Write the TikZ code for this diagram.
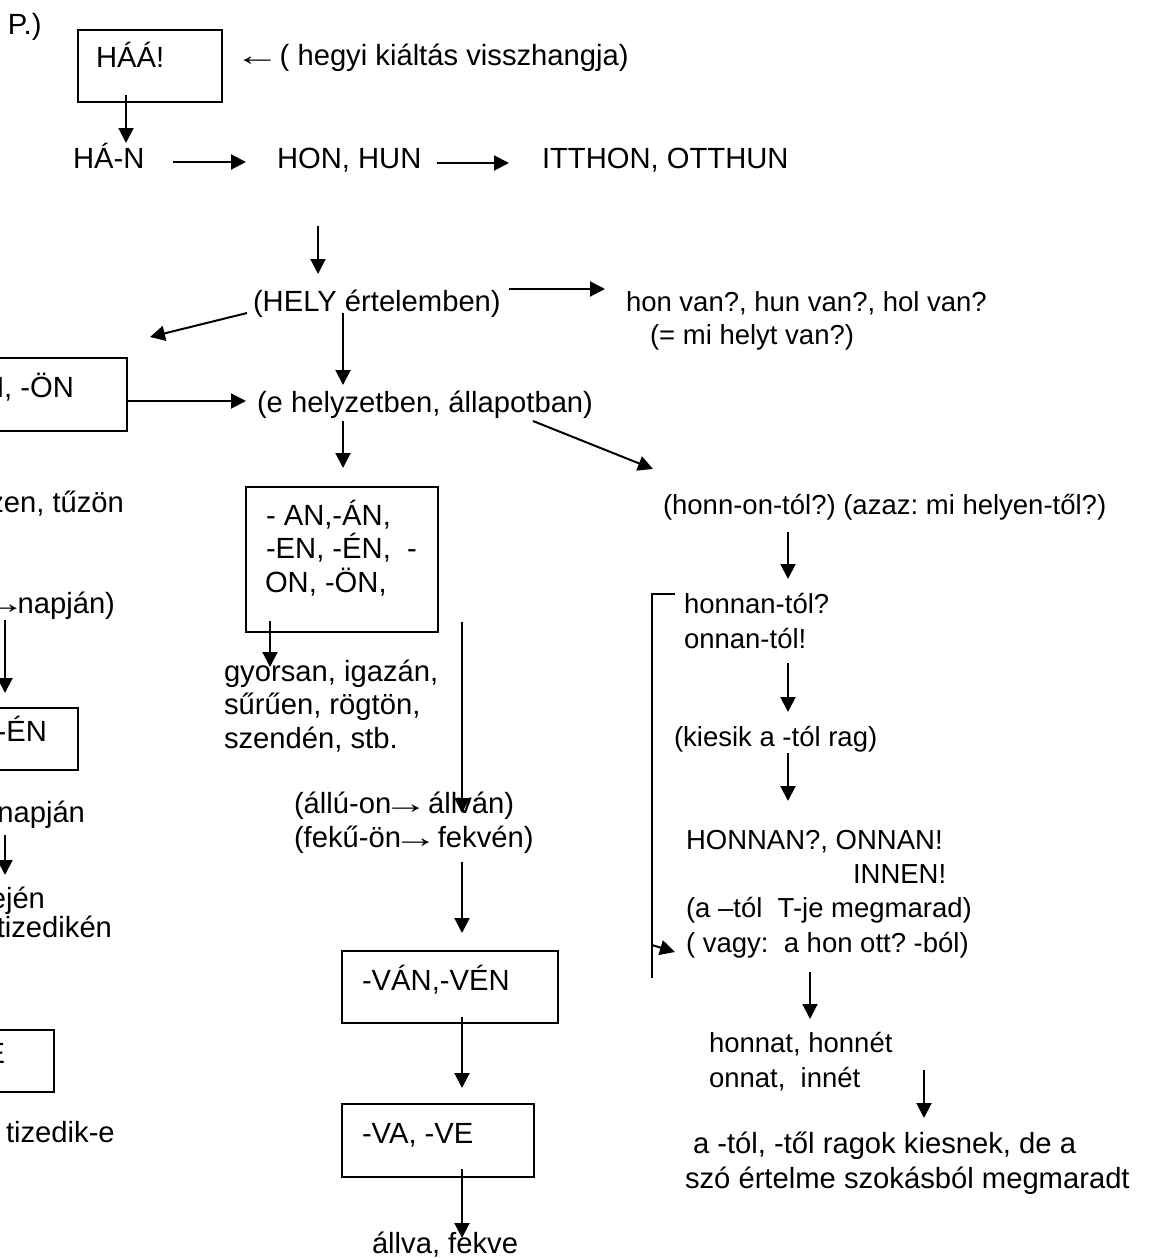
\documentclass[tikz,border=0pt]{standalone}
\usepackage{graphicx}
\usepackage{fontspec}
\setmainfont{Liberation Sans}
\newfontfamily\arrowfont{Liberation Serif}
\usetikzlibrary{arrows.meta,calc}
\newcommand{\bigfs}{\fontsize{29.2}{34}\selectfont\frenchspacing}
\newcommand{\smallfs}{\fontsize{27.5}{34}\selectfont\frenchspacing}
% thin text arrows, one em wide
\newcommand{\ra}{\makebox[0.98em][c]{\scalebox{1.55}[1]{\arrowfont →}}}
\newcommand{\la}{\makebox[0.98em][c]{\scalebox{1.55}[1]{\arrowfont ←}}}
\begin{document}
\begin{tikzpicture}[x=1pt,y=-1pt,
  txt/.style={inner sep=0pt, outer sep=0pt, anchor=base west, font=\bigfs},
  txtr/.style={txt, anchor=base east},
  txts/.style={txt, font=\smallfs},
  frame/.style={draw, line width=1.5pt, inner sep=0pt, outer sep=0pt, anchor=north west},
  arr/.style={line width=2pt, -{Triangle[length=15pt,width=15pt]}},
  ]
\useasboundingbox (0,0) rectangle (1152,1258);
\clip (0,0) rectangle (1152,1258);
\fill[white] (0,0) rectangle (1152,1258);

% ---------- frames ----------
\node[frame, minimum width=144pt, minimum height=72pt]  (bHAA) at (78,30)   {};
\node[frame, minimum width=157pt, minimum height=73pt]  (bON)  at (-30,358) {};
\node[frame, minimum width=192pt, minimum height=145pt] (bAN)  at (246,487) {};
\node[frame, minimum width=108pt, minimum height=62pt]  (bEN)  at (-30,708) {};
\node[frame, minimum width=216pt, minimum height=72pt]  (bVAN) at (342,951) {};
\node[frame, minimum width=84pt,  minimum height=62pt]  (bE)   at (-30,1030){};
\node[frame, minimum width=192pt, minimum height=73pt]  (bVA)  at (342,1104){};

% ---------- top ----------
\node[txt] (tP)    at (8,34)    {P.)};
\node[txt] (tHAA)  at (96,67)   {HÁÁ!};
\node[txt] (tEcho) at (243,65)  {\la\ ( hegyi kiáltás visszhangja)};
\node[txt] (tHAN)  at (73,168)  {HÁ-N};
\node[txt] (tHON)  at (277,168) {HON, HUN};
\node[txt] (tITT)  at (542,168) {ITTHON, OTTHUN};
\node[txt] (tHELY) at (253,311) {(HELY értelemben)};
\node[txts] (tHOL) at (626,311) {hon van?, hun van?, hol van?};
\node[txts] (tMI)  at (650,344) {(= mi helyt van?)};
\node[txt] (tEH)   at (257,412) {(e helyzetben, állapotban)};

% ---------- left column ----------
\node[txtr] (tON)   at (74,397)  {N, -ÖN};
\node[txtr] (tTUZ)  at (124,512) {zen, tűzön};
\node[txtr] (tNAP1) at (115,613) {\ra napján)};
\node[txtr] (tEN)   at (47,741)  {-ÉN};
\node[txtr] (tNAP2) at (85,822)  {napján};
\node[txtr] (tEJ)   at (45,908)  {ején};
\node[txtr] (tTIZ1) at (112,937) {tizedikén};
\node[txtr] (tE)    at (5,1063)  {E};
\node[txt]  (tTIZ2) at (6,1142)  {tizedik-e};

% ---------- middle column ----------
\node[txt] (tAN1) at (266,525) {- AN,-ÁN,};
\node[txt] (tAN2) at (266,558) {-EN, -ÉN,\ \ -};
\node[txt] (tAN3) at (265,592) {ON, -ÖN,};
\node[txt] (tGY1) at (224,681) {gyorsan, igazán,};
\node[txt] (tGY2) at (224,714) {sűrűen, rögtön,};
\node[txt] (tGY3) at (224,748) {szendén, stb.};
\node[txt] (tALL) at (294,813) {(állú-on\ra\ állván)};
\node[txt] (tFEK) at (294,847) {(fekű-ön\ra\ fekvén)};
\node[txt] (tVAN) at (362,990) {-VÁN,-VÉN};
\node[txt] (tVA)  at (362,1143){-VA, -VE};
\node[txt] (tALV) at (372,1253){állva, fekve};

% ---------- right column ----------
\node[txts] (tHONN) at (663,514)  {(honn-on-tól?) (azaz: mi helyen-től?)};
\node[txts] (tHT1)  at (684,613)  {honnan-tól?};
\node[txts] (tHT2)  at (684,648)  {onnan-tól!};
\node[txts] (tKI)   at (674,746)  {(kiesik a -tól rag)};
\node[txts] (tHN1)  at (686,849)  {HONNAN?, ONNAN!};
\node[txts] (tHN2)  at (853,883)  {INNEN!};
\node[txts] (tHN3)  at (686,917)  {(a –tól\ \ T-je megmarad)};
\node[txts] (tHN4)  at (686,952)  {( vagy:\ \ a hon ott? -ból)};
\node[txts] (tHT3)  at (709,1052) {honnat, honnét};
\node[txts] (tHT4)  at (709,1087) {onnat,\ \ innét};
\node[txt]  (tRG1)  at (693,1153) {a -tól, -től ragok kiesnek, de a};
\node[txt]  (tRG2)  at (685,1188) {szó értelme szokásból megmaradt};

% ---------- connector ends ----------
\coordinate (c1a) at (126,95);   \coordinate (c1b) at (126,143);
\coordinate (c2a) at (173,162);  \coordinate (c2b) at (246,162);
\coordinate (c3a) at (437,163);  \coordinate (c3b) at (509,163);
\coordinate (c4a) at (318,226);  \coordinate (c4b) at (318,274);
\coordinate (c5a) at (509,289);  \coordinate (c5b) at (605,289);
\coordinate (c6a) at (247,313);  \coordinate (c6b) at (150,337);
\coordinate (c7a) at (343,313);  \coordinate (c7b) at (343,385);
\coordinate (c8b) at (246,401);
\coordinate (c9a) at (343,421);  \coordinate (c9b) at (343,468);
\coordinate (c10a) at (533,421); \coordinate (c10b) at (653,469);
\coordinate (c11a) at (270,621); \coordinate (c11b) at (270,667);
\coordinate (c12a) at (462,622); \coordinate (c12b) at (462,813);
\coordinate (c13a) at (462,862); \coordinate (c13b) at (462,933);
\coordinate (c14a) at (462,1017);\coordinate (c14b) at (462,1088);
\coordinate (c15a) at (462,1169);\coordinate (c15b) at (462,1238);
\coordinate (c16a) at (5,620);   \coordinate (c16b) at (5,693);
\coordinate (c17a) at (5,835);   \coordinate (c17b) at (5,875);
\coordinate (c18a) at (788,532); \coordinate (c18b) at (788,579);
\coordinate (c19a) at (788,663); \coordinate (c19b) at (788,712);
\coordinate (c20a) at (788,753); \coordinate (c20b) at (788,801);
\coordinate (c21a) at (810,972); \coordinate (c21b) at (810,1019);
\coordinate (c22a) at (924,1070);\coordinate (c22b) at (924,1118);
\coordinate (brT)  at (675,594); \coordinate (brC) at (652,594);
\coordinate (brB)  at (652,978); \coordinate (brA) at (652,945);
\coordinate (brH)  at (675,952);

% ---------- connectors ----------
\draw[arr] (c1a) -- (c1b);
\draw[arr] (c2a) -- (c2b);
\draw[arr] (c3a) -- (c3b);
\draw[arr] (c4a) -- (c4b);
\draw[arr] (c5a) -- (c5b);
\draw[arr] (c6a) -- (c6b);
\draw[arr] (c7a) -- (c7b);
\draw[arr] (bON.east |- c8b) -- (c8b);
\draw[arr] (c9a) -- (c9b);
\draw[arr] (c10a) -- (c10b);
\draw[arr] (c11a) -- (c11b);
\draw[arr] (c12a) -- (c12b);
\draw[arr] (c13a) -- (c13b);
\draw[arr] (c14a) -- (c14b);
\draw[arr] (c15a) -- (c15b);
\draw[arr] (c16a) -- (c16b);
\draw[arr] (c17a) -- (c17b);
\draw[arr] (c18a) -- (c18b);
\draw[arr] (c19a) -- (c19b);
\draw[arr] (c20a) -- (c20b);
\draw[arr] (c21a) -- (c21b);
\draw[arr] (c22a) -- (c22b);
\draw[line width=2pt] (brT) -- (brC) -- (brB);
\draw[arr] (brA) -- (brH);
\end{tikzpicture}
\end{document}
